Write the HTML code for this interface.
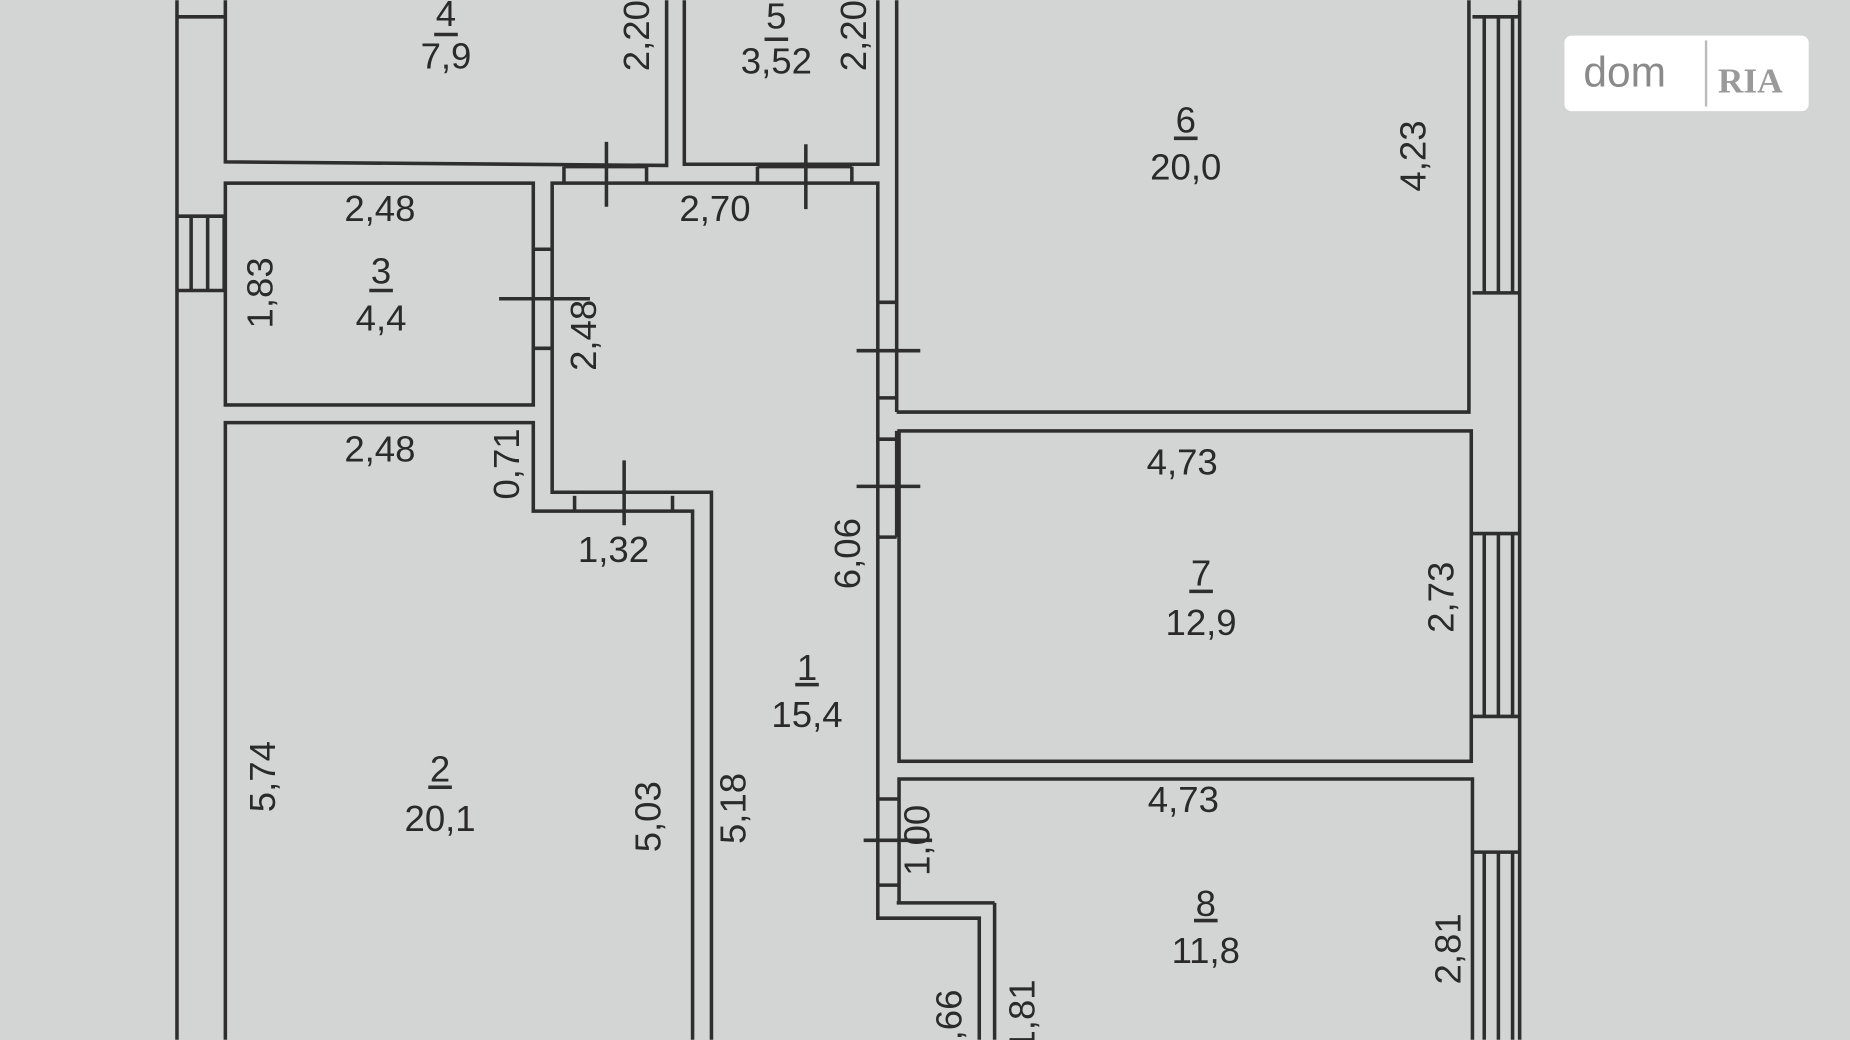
<!DOCTYPE html>
<html><head><meta charset="utf-8"><style>
html,body{margin:0;padding:0;background:#d3d5d4;}
svg{display:block}
text{font-family:"Liberation Sans",sans-serif;fill:#2a2a2a;font-size:31px}
</style></head><body>
<svg width="1850" height="1040" viewBox="0 0 1568 881" xmlns="http://www.w3.org/2000/svg">
<rect width="1568" height="881" fill="#d3d5d4"/>
<g stroke="#2e2e2e" stroke-width="3" fill="none">
<!-- left outer wall -->
<line x1="150" y1="0" x2="150" y2="881"/>
<line x1="150" y1="14" x2="190" y2="14"/>
<line x1="150" y1="183" x2="190" y2="183"/><line x1="150" y1="246" x2="190" y2="246"/>
<line x1="162" y1="183" x2="162" y2="246"/><line x1="176" y1="183" x2="176" y2="246"/><line x1="190" y1="183" x2="190" y2="246"/>
<!-- room 4 -->
<polyline points="191,0 191,137 565,140 565,0"/>
<!-- room 5 -->
<polyline points="580,0 580,139 744,139 744,0"/>
<!-- wall line right of 5 -->
<line x1="760" y1="0" x2="760" y2="349"/>
<!-- room 3 -->
<rect x="191" y="155" width="261" height="188"/>
<line x1="452" y1="211" x2="468" y2="211"/><line x1="452" y1="295" x2="468" y2="295"/>
<line x1="423" y1="253" x2="500" y2="253"/>
<!-- room 2 -->
<polyline points="191,881 191,358 452,358 452,433 587,433 587,881"/>
<line x1="487" y1="420" x2="487" y2="433"/><line x1="570" y1="420" x2="570" y2="433"/>
<line x1="529" y1="390" x2="529" y2="445"/>
<!-- corridor 1 -->
<polyline points="603,881 603,417 468,417 468,155 744,155 744,778 830,778 830,881"/>
<line x1="843" y1="765" x2="843" y2="881"/>
<line x1="760" y1="765" x2="843" y2="765"/>
<line x1="478" y1="141" x2="478" y2="155"/><line x1="548" y1="141" x2="548" y2="155"/><line x1="478" y1="141" x2="548" y2="141"/>
<line x1="642" y1="141" x2="642" y2="155"/><line x1="722" y1="141" x2="722" y2="155"/><line x1="642" y1="141" x2="722" y2="141"/>
<line x1="514" y1="120" x2="514" y2="175"/><line x1="683" y1="122" x2="683" y2="177"/>
<!-- corridor right wall openings -->
<line x1="744" y1="256" x2="760" y2="256"/><line x1="744" y1="337" x2="760" y2="337"/>
<line x1="726" y1="297" x2="780" y2="297"/>
<line x1="744" y1="372" x2="760" y2="372"/><line x1="744" y1="455" x2="760" y2="455"/>
<line x1="726" y1="412" x2="780" y2="412"/>
<line x1="744" y1="677" x2="762" y2="677"/><line x1="744" y1="750" x2="762" y2="750"/>
<line x1="732" y1="712" x2="790" y2="712"/>
<!-- room 6 -->
<polyline points="760,349 1245,349 1245,0"/>
<!-- room 7 -->
<rect x="762" y="365" width="485" height="280"/>
<line x1="760" y1="455" x2="760" y2="365"/>
<!-- room 8 -->
<polyline points="762,765 762,660 1248,660 1248,881"/>
<!-- right outer wall -->
<line x1="1288" y1="0" x2="1288" y2="881"/>
<line x1="1248" y1="14" x2="1288" y2="14"/><line x1="1248" y1="248" x2="1288" y2="248"/>
<line x1="1258" y1="14" x2="1258" y2="248"/><line x1="1270" y1="14" x2="1270" y2="248"/><line x1="1282" y1="14" x2="1282" y2="248"/>
<line x1="1248" y1="452" x2="1288" y2="452"/><line x1="1248" y1="607" x2="1288" y2="607"/>
<line x1="1258" y1="452" x2="1258" y2="607"/><line x1="1270" y1="452" x2="1270" y2="607"/><line x1="1282" y1="452" x2="1282" y2="607"/>
<line x1="1248" y1="722" x2="1288" y2="722"/>
<line x1="1258" y1="722" x2="1258" y2="881"/><line x1="1270" y1="722" x2="1270" y2="881"/><line x1="1282" y1="722" x2="1282" y2="881"/>
<!-- fraction bars -->
<line x1="368" y1="29" x2="388" y2="29"/><line x1="648" y1="33" x2="668" y2="33"/>
<line x1="995" y1="117" x2="1015" y2="117"/><line x1="313" y1="246" x2="333" y2="246"/>
<line x1="1008" y1="501" x2="1028" y2="501"/><line x1="674" y1="580" x2="694" y2="580"/>
<line x1="363" y1="667" x2="383" y2="667"/><line x1="1012" y1="780" x2="1032" y2="780"/>
</g>
<g text-anchor="middle">
<text x="378" y="22">4</text><text x="378" y="58">7,9</text>
<text x="658" y="24">5</text><text x="658" y="62">3,52</text>
<text x="1005" y="112">6</text><text x="1005" y="152">20,0</text>
<text x="323" y="240">3</text><text x="323" y="280">4,4</text>
<text x="322" y="187">2,48</text><text x="606" y="187">2,70</text>
<text x="322" y="391">2,48</text><text x="520" y="476">1,32</text>
<text x="1002" y="402">4,73</text>
<text x="1018" y="496">7</text><text x="1018" y="538">12,9</text>
<text x="684" y="576">1</text><text x="684" y="616">15,4</text>
<text x="373" y="662">2</text><text x="373" y="704">20,1</text>
<text x="1003" y="688">4,73</text>
<text x="1022" y="776">8</text><text x="1022" y="816">11,8</text>
<g>
<text transform="translate(550,30) rotate(-90)">2,20</text>
<text transform="translate(734,30) rotate(-90)">2,20</text>
<text transform="translate(1208,132) rotate(-90)">4,23</text>
<text transform="translate(231,248) rotate(-90)">1,83</text>
<text transform="translate(505,284) rotate(-90)">2,48</text>
<text transform="translate(440,393) rotate(-90)">0,71</text>
<text transform="translate(729,469) rotate(-90)">6,06</text>
<text transform="translate(1232,506) rotate(-90)">2,73</text>
<text transform="translate(233,658) rotate(-90)">5,74</text>
<text transform="translate(560,692) rotate(-90)">5,03</text>
<text transform="translate(632,685) rotate(-90)">5,18</text>
<text transform="translate(788,712) rotate(-90)">1,00</text>
<text transform="translate(1238,804) rotate(-90)">2,81</text>
<text transform="translate(815,860) rotate(-90)">,66</text>
<text transform="translate(877,860) rotate(-90)">1,81</text>
</g>
</g>
<!-- logo -->
<rect x="1326" y="30" width="207" height="64" rx="6" fill="#ffffff"/>
<line x1="1446" y1="34" x2="1446" y2="90" stroke="#bbb" stroke-width="2"/>
<text x="1342" y="73" style="font-size:36px;fill:#8a8a8a">dom</text>
<text x="1456" y="78" style="font-size:30px;fill:#9a9a9a;font-family:'Liberation Serif',serif;font-weight:bold">RIA</text>
</svg>
</body></html>
